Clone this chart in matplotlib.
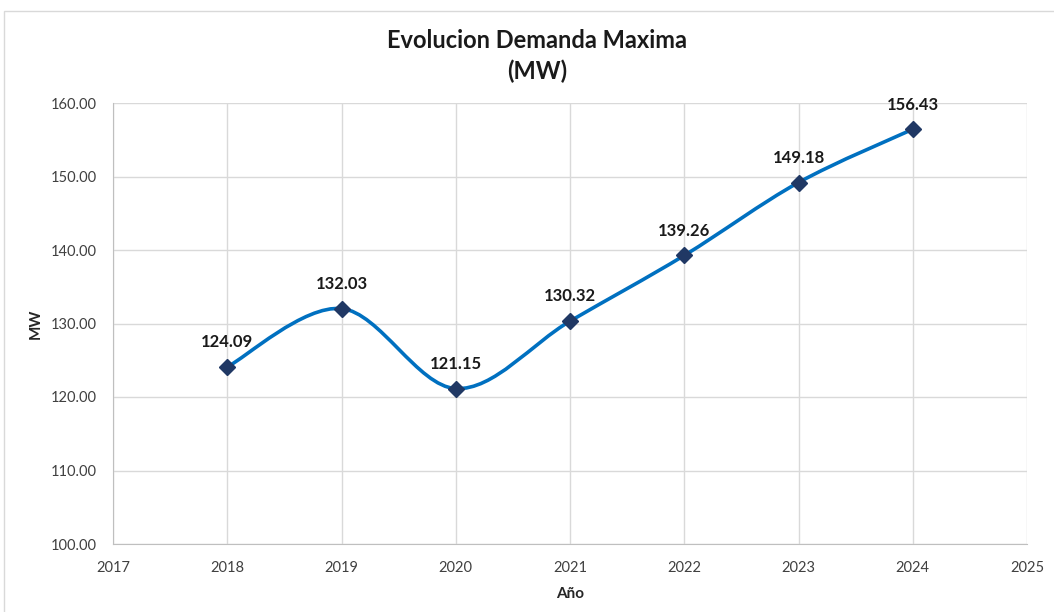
import matplotlib
matplotlib.use('Agg')
import matplotlib.pyplot as plt
from matplotlib.path import Path
from matplotlib.patches import PathPatch, Rectangle
from matplotlib.ticker import FormatStrFormatter

plt.rcParams['font.family'] = ['Lato', 'DejaVu Sans']

years = [2018, 2019, 2020, 2021, 2022, 2023, 2024]
demanda = [124.09, 132.03, 121.15, 130.32, 139.26, 149.18, 156.43]
labels = ['124.09', '132.03', '121.15', '130.32', '139.26', '149.18', '156.43']

fig = plt.figure(figsize=(10.54, 6.12), dpi=100)
ax = fig.add_axes([113/1054, 68/612, (1027-113)/1054, (544-103)/612])

# smooth line like excel: bezier segments through the data points
verts = [(years[0], demanda[0])]
codes = [Path.MOVETO]
n = len(years)
for i in range(n - 1):
    x0, y0 = years[max(i-1, 0)], demanda[max(i-1, 0)]
    x1, y1 = years[i], demanda[i]
    x2, y2 = years[i+1], demanda[i+1]
    x3, y3 = years[min(i+2, n-1)], demanda[min(i+2, n-1)]
    c1 = (x1 + (x2 - x0) / 6, y1 + (y2 - y0) / 6)
    c2 = (x2 - (x3 - x1) / 6, y2 - (y3 - y1) / 6)
    verts += [c1, c2, (x2, y2)]
    codes += [Path.CURVE4] * 3
ax.add_patch(PathPatch(Path(verts, codes), fill=False, edgecolor='#0070C0', lw=2.6, zorder=3, capstyle='round'))
ax.plot(years, demanda, linestyle='none', marker='D', ms=8.5, color='#203864', zorder=4)

for x, y, t in zip(years, demanda, labels):
    ax.annotate(t, (x, y), xytext=(0, 12), textcoords='offset points', ha='center', va='bottom',
                fontsize=12, fontweight='bold', color='#1a1a1a')

ax.set_xlim(2017, 2025)
ax.set_ylim(100, 160)
ax.set_xticks(range(2017, 2026))
ax.set_yticks(range(100, 161, 10))
ax.yaxis.set_major_formatter(FormatStrFormatter('%.2f'))
ax.grid(True, color='#D9D9D9', lw=1)
ax.set_axisbelow(True)
ax.tick_params(length=0, labelsize=10.5, colors='#404040', pad=12)
ax.tick_params(axis='y', pad=11.5)
for s in ['top', 'right']:
    ax.spines[s].set_visible(False)
for s in ['left', 'bottom']:
    ax.spines[s].set_color('#BFBFBF')

ax.set_xlabel('Año', fontsize=11, fontweight='bold', color='#262626', labelpad=9)
ax.set_ylabel('MW', fontsize=11, fontweight='bold', color='#262626', labelpad=6)

fig.text(537/1054, 1 - 40/612, 'Evolucion Demanda Maxima', ha='center', va='center',
         fontsize=17, fontweight='bold', color='#1a1a1a')
fig.text(537/1054, 1 - 71/612, '(MW)', ha='center', va='center',
         fontsize=17, fontweight='bold', color='#1a1a1a')

fig.patches.append(Rectangle((4/1054, -0.01), 1.1, 1 - 11/612 + 0.01, transform=fig.transFigure,
                             fill=False, edgecolor='#D9D9D9', lw=1))

fig.savefig('out.png', dpi=100)
